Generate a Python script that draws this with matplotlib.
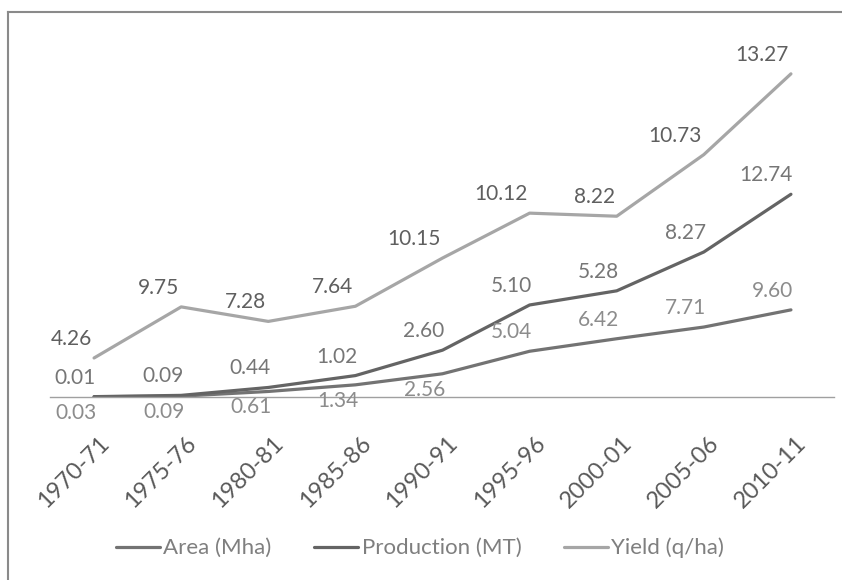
import numpy as np
import matplotlib
matplotlib.use("Agg")
import matplotlib.pyplot as plt
from matplotlib.transforms import ScaledTranslation

########################## data #####################################
years = ["1970-71", "1975-76", "1980-81", "1985-86", "1990-91",
         "1995-96", "2000-01", "2005-06", "2010-11"]
area = [0.03, 0.09, 0.61, 1.34, 2.56, 5.04, 6.42, 7.71, 9.60]          # Mha
production = [0.01, 0.09, 0.44, 1.02, 2.60, 5.10, 5.28, 8.27, 12.74]   # MT
yield_qha = [4.26, 9.75, 7.28, 7.64, 10.15, 10.12, 8.22, 10.73, 13.27]  # q/ha

########################## stacked line chart #######################
plt.rcParams['font.family'] = ['Lato', 'DejaVu Sans']

x = np.arange(len(years))
s_area = np.array(area)
s_prod = s_area + np.array(production)
s_yield = s_prod + np.array(yield_qha)

fig = plt.figure(figsize=(8.42, 5.80), dpi=100)
ax = fig.add_axes([50.5/842, 1-397/580, 784/842, 363/580])

c_area, c_prod, c_yield = '#737373', '#646464', '#a6a6a6'
lw = 2.3
ax.plot(x, s_area, color=c_area, lw=lw, label='Area (Mha)', solid_capstyle='round')
ax.plot(x, s_prod, color=c_prod, lw=lw, label='Production (MT)', solid_capstyle='round')
ax.plot(x, s_yield, color=c_yield, lw=lw, label='Yield (q/ha)', solid_capstyle='round')

ax.set_xlim(-0.5, len(years) - 0.5)
ax.set_ylim(0, 40)

# data labels
fs = 15
for i in range(len(years)):
    ax.annotate(f"{yield_qha[i]:.2f}", (x[i], s_yield[i]), xytext=(-2, 13),
                textcoords='offset pixels', ha='right', va='baseline',
                fontsize=fs, color='#5f5f5f')
    ax.annotate(f"{production[i]:.2f}", (x[i], s_prod[i]), xytext=(2, 13),
                textcoords='offset pixels', ha='right', va='baseline',
                fontsize=fs, color='#767676')
    if area[i] < 3:
        ax.annotate(f"{area[i]:.2f}", (x[i], s_area[i]), xytext=(3, -6),
                    textcoords='offset pixels', ha='right', va='top',
                    fontsize=fs, color='#8c8c8c')
    else:
        ax.annotate(f"{area[i]:.2f}", (x[i], s_area[i]), xytext=(2, 13),
                    textcoords='offset pixels', ha='right', va='baseline',
                    fontsize=fs, color='#8c8c8c')

ax.set_xticks(x)
ax.set_xticklabels(years, rotation=45, ha='right', va='center',
                   rotation_mode='anchor', fontsize=17, color='#595959')
ax.tick_params(axis='x', length=0, pad=31)
shift = ScaledTranslation(12/100, 0, fig.dpi_scale_trans)
for lab in ax.get_xticklabels():
    lab.set_transform(lab.get_transform() + shift)
ax.set_yticks([])
for side in ['top', 'right', 'left']:
    ax.spines[side].set_visible(False)
ax.spines['bottom'].set_color('#a0a0a0')
ax.spines['bottom'].set_linewidth(1.0)

fig.legend(loc='center', bbox_to_anchor=(420/842, 1-548/580), ncol=3,
           frameon=False, fontsize=16, labelcolor='#7f7f7f',
           handlelength=2.0, handletextpad=0.15, columnspacing=1.9)

# chart border (only left and top visible)
fig.add_artist(plt.Line2D([8/842, 8/842], [0, 1-12/580], color='#8a8a8a', lw=1.5,
                          transform=fig.transFigure))
fig.add_artist(plt.Line2D([8/842, 1], [1-12/580, 1-12/580], color='#8a8a8a', lw=1.5,
                          transform=fig.transFigure))

fig.savefig("out.png", dpi=100, facecolor='white')
